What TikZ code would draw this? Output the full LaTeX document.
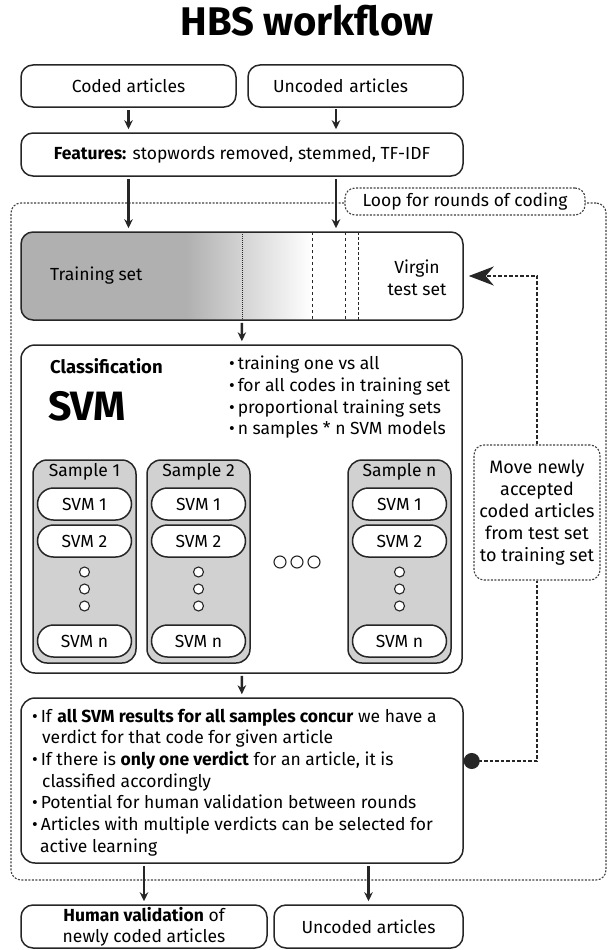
\documentclass[tikz,border=0pt]{standalone}
\usepackage{fontspec}
\setmainfont{Fira Sans}
\usetikzlibrary{positioning,arrows.meta,calc}

\begin{document}
\begin{tikzpicture}[
    x=1pt, y=-1pt,
    >={Stealth[length=9pt,width=8.5pt]},
    every node/.style={font=\fontsize{17.5}{21.7}\selectfont, inner sep=0pt},
    box/.style={draw=black!85, line width=1.5pt, rounded corners=12pt, align=center},
    flow/.style={->, line width=2.4pt, black!85, shorten <=2pt, shorten >=3pt},
    loopbox/.style={draw=black!75, line width=1.1pt, rounded corners=10pt, dash pattern=on 2pt off 1.5pt},
    back/.style={black!85, line width=2.2pt, dash pattern=on 3.5pt off 2pt},
    sample/.style={box, fill=black!18, minimum width=103pt, minimum height=203pt, rounded corners=14pt},
    svm/.style={box, fill=white, minimum width=94pt, minimum height=32pt, rounded corners=16pt},
    dot/.style={circle, draw=black!85, line width=1.1pt, fill=white, minimum size=10pt}
]
\useasboundingbox (0,0) rectangle (608,950);

% Title
\node[font=\fontsize{40}{44}\selectfont\bfseries] (title) at (307,21) {HBS workflow};

% Input
\node[box, minimum width=215pt, minimum height=42pt] (coded) at (128.5,86) {Coded articles};
\node[box, minimum width=215pt, minimum height=42pt, text width=165pt, align=left, inner xsep=25pt] (uncoded) at (355.5,86) {Uncoded articles};
\coordinate (uc) at (336,107);

% Features
\node[box, minimum width=442pt, minimum height=43pt] (feat) at (242,154.5)
{\textbf{Features:} stopwords removed, stemmed, TF-IDF};

% Loop for rounds of coding
\node[loopbox, minimum width=595pt, minimum height=677pt] (loop) at (308.5,541.5) {};
\node[loopbox, fill=white, minimum width=240pt, minimum height=27pt] (looplbl) at (465,201.5)
{Loop for rounds of coding};

% Training set / test set
\begin{scope}
\clip[rounded corners=12pt] (21,232) rectangle (463,320);
\fill[black!31] (21,232) rectangle (186,320);
\shade[left color=black!31, right color=white] (186,232) rectangle (312,320);
\end{scope}
\draw[black!85, densely dotted, line width=1pt] (242,232) -- (242,320);
\draw[black!85, dashed, line width=1pt] (312,232) -- (312,320);
\draw[black!85, dashed, line width=1pt] (345,232) -- (345,320);
\draw[black!85, densely dashed, line width=1pt] (358,232) -- (358,320);
\node[box, minimum width=442pt, minimum height=88pt] (bar) at (242,276) {};
\node[anchor=west] (trainlbl) at (50,276) {Training set};
\node[align=center] (virgin) at (417,278) {Virgin\\test set};

% Classification
\node[box, minimum width=441pt, minimum height=328pt, rounded corners=14pt] (clf) at (241.5,509) {};
\node[anchor=west, font=\fontsize{18.5}{20}\selectfont\bfseries] (clflbl) at (50,366) {Classification};
\node[anchor=west, font=\fontsize{41}{44}\selectfont\bfseries] (svmlbl) at (48,406) {SVM};
\node[anchor=north west, align=left] (clfnotes) at (229,356)
{\textbullet\,training one vs all\\
 \textbullet\,for all codes in training set\\
 \textbullet\,proportional training sets\\
 \textbullet\,n samples * n SVM models};

% Samples
\foreach \i/\x in {1/84.5, 2/198.5, n/399.5} {
  \node[sample] (s\i) at (\x,561.5) {};
  \node[below=4pt of s\i.north] (s\i lbl) {Sample \i};
  \node[svm] (s\i svm1) at (\x,504) {SVM 1};
  \node[svm] (s\i svm2) at (\x,541) {SVM 2};
  \foreach \y in {572,589,606}
    \node[dot] at (\x,\y) {};
  \node[svm] (s\i svmn) at (\x,641) {SVM n};
}
\foreach \x in {280,297,314}
  \node[dot, fill=none, minimum size=12pt] at (\x,562) {};

% Move box
\node[loopbox, fill=white, minimum width=126pt, minimum height=135pt, align=center,
      font=\fontsize{18}{22}\selectfont] (move) at (537,512.5)
{Move newly\\accepted\\coded articles\\from test set\\to training set};

% Results
\node[box, minimum width=442pt, minimum height=165pt, rounded corners=14pt] (result) at (242,780.5) {};
\node[anchor=west, align=left] (resulttxt) at (32,782.5)
{\textbullet\,If \textbf{all SVM results for all samples concur} we have a\\
 \hspace*{10pt}verdict for that code for given article\\
 \textbullet\,If there is \textbf{only one verdict} for an article, it is\\
 \hspace*{10pt}classified accordingly\\
 \textbullet\,Potential for human validation between rounds\\
 \textbullet\,Articles with multiple verdicts can be selected for\\
 \hspace*{8pt}active learning};
\coordinate (dotpt) at ($(result.east)+(0,-19.5)$);

% Output
\node[box, minimum width=246pt, minimum height=43pt, font=\fontsize{17.5}{21}\selectfont] (human) at (144,926.5)
{\textbf{Human validation} of\\newly coded articles};
\node[box, minimum width=189pt, minimum height=43pt] (uncodedout) at (368.5,926.5) {Uncoded articles};

% Arrows
\draw[flow] (coded) -- (coded |- feat.north);
\draw[flow] (uc) -- (uc |- feat.north);
\draw[flow] (feat.south -| coded) -- (bar.north -| coded);
\draw[flow] (feat.south -| uc) -- (bar.north -| uc);
\draw[flow] (bar) -- (clf);
\draw[flow] (clf) -- (result);
\draw[flow] (result.south -| human) -- (human);
\draw[flow] (result.south -| uncodedout) -- (uncodedout);

% Feedback loop
\draw[back, {Circle[length=16pt]}-] (dotpt) -| (move.south);
\draw[back, -{Stealth[length=25pt,width=19pt,inset=8pt]}, shorten >=5pt] (move.north) |- (bar.east);

\end{tikzpicture}
\end{document}
